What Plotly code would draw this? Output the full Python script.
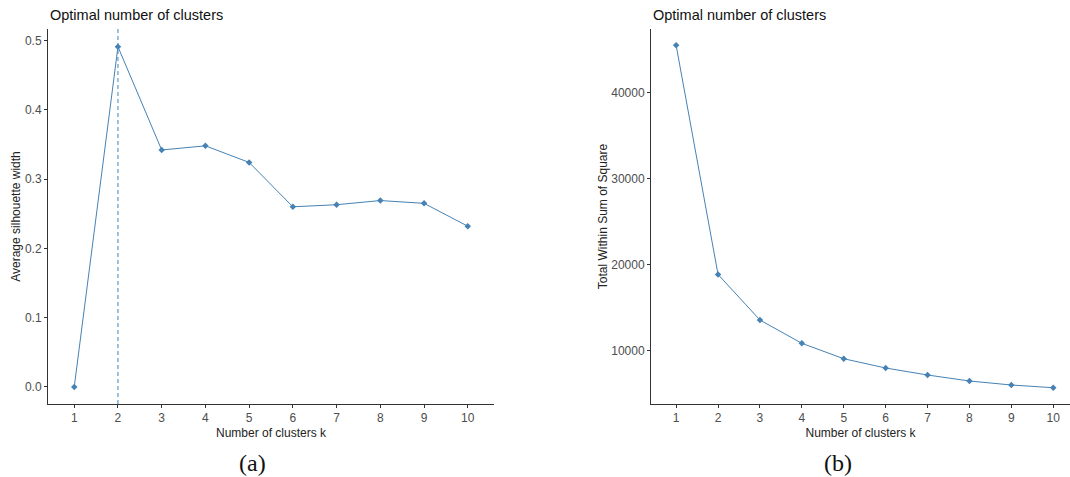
import plotly.graph_objects as go

k_values = [1, 2, 3, 4, 5, 6, 7, 8, 9, 10]
silhouette = [0.0, 0.491, 0.342, 0.348, 0.324, 0.260, 0.263, 0.269, 0.265, 0.232]
wss = [45518, 18836, 13527, 10815, 9022, 7940, 7125, 6426, 5960, 5646]
sil_ticks = [0.0, 0.1, 0.2, 0.3, 0.4, 0.5]
wss_ticks = [10000, 20000, 30000, 40000]
optimal_k = 2

COLOR = "#4682B4"
FONT = "Liberation Sans, Arial, sans-serif"

fig = go.Figure()
fig.add_trace(go.Scatter(x=k_values, y=silhouette, mode="lines+markers",
                         line=dict(color=COLOR, width=1),
                         marker=dict(color=COLOR, size=5, symbol="diamond"),
                         xaxis="x", yaxis="y", showlegend=False))
fig.add_trace(go.Scatter(x=k_values, y=wss, mode="lines+markers",
                         line=dict(color=COLOR, width=1),
                         marker=dict(color=COLOR, size=5, symbol="diamond"),
                         xaxis="x2", yaxis="y2", showlegend=False))

ydom = [1 - 404 / 477, 1 - 29 / 477]
axis_common = dict(showgrid=False, zeroline=False, showline=True, linecolor="#333333",
                   linewidth=1, ticks="outside", ticklen=3, tickcolor="#333333",
                   tickfont=dict(family=FONT, size=12, color="#4d4d4d"))

fig.update_layout(
    width=1070, height=477, margin=dict(l=0, r=0, t=0, b=0),
    paper_bgcolor="white", plot_bgcolor="white",
    xaxis=dict(domain=[48 / 1070, 494 / 1070], range=[0.4, 10.6], tickvals=k_values,
               title=dict(text="Number of clusters k", font=dict(family=FONT, size=12, color="#222"), standoff=4),
               anchor="y", **axis_common),
    yaxis=dict(domain=ydom, range=[-0.0246, 0.5166], tickvals=sil_ticks,
               tickformat=".1f",
               title=dict(text="Average silhouette width", font=dict(family=FONT, size=12, color="#222"), standoff=1),
               anchor="x", **axis_common),
    xaxis2=dict(domain=[651 / 1070, 1.0], range=[0.4, 10.4], tickvals=k_values,
                title=dict(text="Number of clusters k", font=dict(family=FONT, size=12, color="#222"), standoff=4),
                anchor="y2", **axis_common),
    yaxis2=dict(domain=ydom, range=[3749, 47416], tickvals=wss_ticks,
                tickformat="d",
                title=dict(text="Total Within Sum of Square", font=dict(family=FONT, size=12, color="#222"), standoff=1),
                anchor="x2", **axis_common),
    shapes=[dict(type="line", xref="x", yref="paper", x0=optimal_k, x1=optimal_k,
                 y0=ydom[0], y1=ydom[1], line=dict(color=COLOR, width=1, dash="4px,3px"))],
    annotations=[
        dict(text="Optimal number of clusters", xref="paper", yref="paper",
             x=48 / 1070, y=1 - 15 / 477, xanchor="left", yanchor="middle", showarrow=False,
             font=dict(family=FONT, size=14.5, color="#111")),
        dict(text="Optimal number of clusters", xref="paper", yref="paper",
             x=651 / 1070, y=1 - 15 / 477, xanchor="left", yanchor="middle", showarrow=False,
             font=dict(family=FONT, size=14.5, color="#111")),
        dict(text="(a)", xref="paper", yref="paper",
             x=252 / 1070, y=1 - 463 / 477, xanchor="center", yanchor="middle", showarrow=False,
             font=dict(family="Liberation Serif, Times New Roman, serif", size=24, color="#111")),
        dict(text="(b)", xref="paper", yref="paper",
             x=838 / 1070, y=1 - 463 / 477, xanchor="center", yanchor="middle", showarrow=False,
             font=dict(family="Liberation Serif, Times New Roman, serif", size=24, color="#111")),
    ],
)

fig.write_html("out.html", config={"displayModeBar": False},
               post_script="document.body.style.margin='0';document.body.style.padding='0';")
